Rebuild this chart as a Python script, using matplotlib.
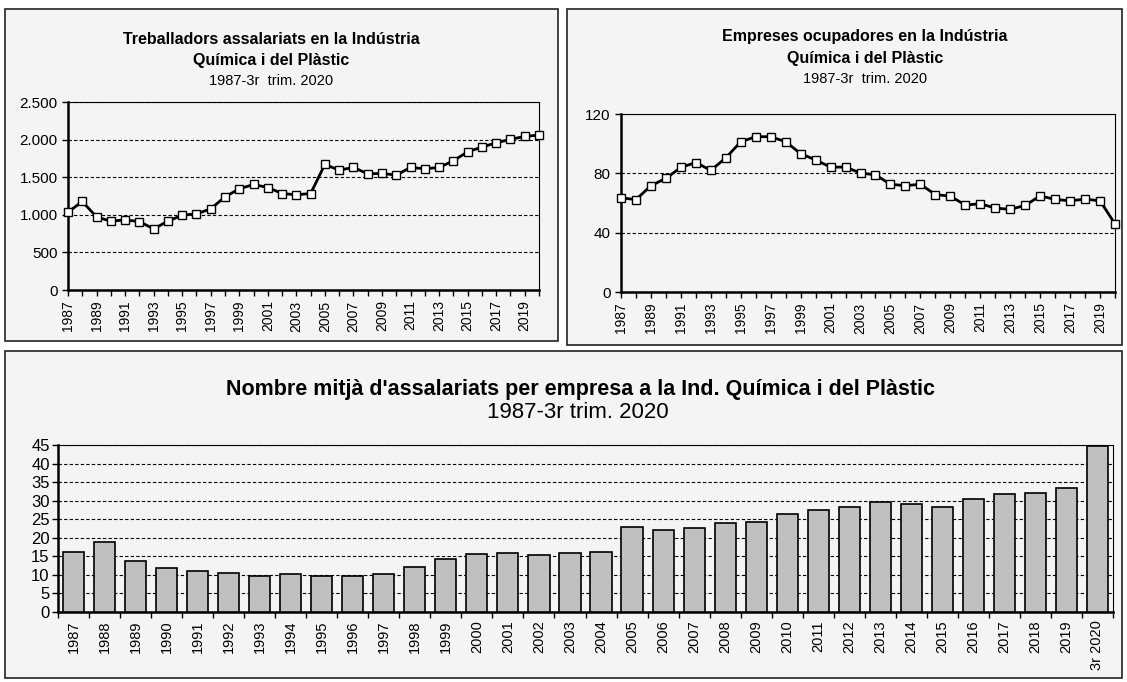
import matplotlib
matplotlib.use('Agg')
import matplotlib.pyplot as plt
from matplotlib.patches import Rectangle
from matplotlib.ticker import FuncFormatter, MultipleLocator

plt.rcParams['font.family'] = ['Liberation Sans', 'DejaVu Sans']

years = list(range(1987, 2021))
assalariats = [1035, 1177, 972, 915, 932, 910, 813, 915, 995, 1012, 1079, 1239,
               1345, 1403, 1363, 1283, 1266, 1283, 1670, 1594, 1630, 1545, 1550,
               1528, 1630, 1612, 1630, 1718, 1838, 1900, 1958, 2003, 2043, 2060]
empreses = [63.5, 62.3, 71.7, 76.6, 84.0, 87.3, 82.0, 90.4, 101.3, 104.7, 104.7,
            101.3, 93.3, 89.0, 84.2, 84.2, 80.2, 79.0, 72.6, 71.7, 72.6, 65.7,
            64.6, 58.6, 59.5, 56.6, 55.7, 58.4, 64.8, 62.4, 61.5, 62.6, 61.5, 45.9]
bar_labels = [str(y) for y in range(1987, 2020)] + ['3r 2020']
mitja = [16.3, 18.9, 13.8, 11.9, 11.1, 10.6, 9.8, 10.2, 9.8, 9.7, 10.2, 12.2,
         14.4, 15.6, 16.0, 15.3, 15.8, 16.3, 23.0, 22.2, 22.6, 23.9, 24.3,
         26.3, 27.5, 28.4, 29.7, 29.2, 28.4, 30.4, 31.7, 32.2, 33.3, 44.7]

W, H = 1127, 682
fig = plt.figure(figsize=(W / 100, H / 100), dpi=100)
BG = '#f4f4f4'


def box(x0, y0, x1, y1):
    fig.patches.append(Rectangle((x0 / W, 1 - y1 / H), (x1 - x0) / W, (y1 - y0) / H,
                                 transform=fig.transFigure, facecolor=BG,
                                 edgecolor='#222222', lw=1.2, zorder=-5))


def axes_px(x0, y0, x1, y1):
    ax = fig.add_axes([x0 / W, 1 - y1 / H, (x1 - x0) / W, (y1 - y0) / H])
    ax.set_facecolor(BG)
    for s in ['left', 'bottom']:
        ax.spines[s].set_linewidth(1.8)
    for s in ['top', 'right']:
        ax.spines[s].set_linewidth(0.8)
    ax.grid(axis='y', color='black', linestyle=(0, (3, 2)), lw=0.8)
    ax.set_axisbelow(True)
    ax.tick_params(axis='both', direction='out', length=4, width=1, colors='black')
    return ax


def ftext(x, y, s, **kw):
    fig.text(x / W, 1 - y / H, s, ha='center', va='center', **kw)


thousands = FuncFormatter(lambda v, p: f"{int(v):,}".replace(',', '.'))

# Panel 1
box(5, 9, 558, 341)
ax1 = axes_px(68, 102, 539, 290)
ax1.plot(years, assalariats, color='black', lw=2, marker='s', ms=6,
         mfc='white', mec='black', mew=1, clip_on=False, zorder=3)
ax1.set_xlim(1987, 2020)
ax1.set_ylim(0, 2500)
ax1.yaxis.set_major_locator(MultipleLocator(500))
ax1.yaxis.set_major_formatter(thousands)
ax1.set_xticks(years)
ax1.set_xticklabels([str(y) if (y - 1987) % 2 == 0 else '' for y in years],
                    rotation=90, fontsize=10)
ax1.tick_params(axis='y', labelsize=11)
ftext(271, 40, 'Treballadors assalariats en la Indústria', fontsize=11.5, fontweight='bold')
ftext(271, 60, 'Química i del Plàstic', fontsize=11.5, fontweight='bold')
ftext(271, 81, '1987-3r  trim. 2020', fontsize=10.5)

# Panel 2
box(567, 9, 1122, 345)
ax2 = axes_px(621, 114, 1115, 292)
ax2.plot(years, empreses, color='black', lw=2, marker='s', ms=6,
         mfc='white', mec='black', mew=1, clip_on=False, zorder=3)
ax2.set_xlim(1987, 2020)
ax2.set_ylim(0, 120)
ax2.yaxis.set_major_locator(MultipleLocator(40))
ax2.set_xticks(years)
ax2.set_xticklabels([str(y) if (y - 1987) % 2 == 0 else '' for y in years],
                    rotation=90, fontsize=10)
ax2.tick_params(axis='y', labelsize=11)
ftext(865, 37, 'Empreses ocupadores en la Indústria', fontsize=11.5, fontweight='bold')
ftext(865, 58, 'Química i del Plàstic', fontsize=11.5, fontweight='bold')
ftext(865, 79, '1987-3r  trim. 2020', fontsize=10.5)

# Panel 3
box(5, 351, 1122, 678)
ax3 = axes_px(58, 445, 1113, 612)
pos = list(range(len(mitja)))
ax3.bar(pos, mitja, width=0.68, color='#c0c0c0', edgecolor='black', lw=1.2, zorder=3)
ax3.set_xlim(-0.5, len(mitja) - 0.5)
ax3.set_ylim(0, 45)
ax3.yaxis.set_major_locator(MultipleLocator(5))
ax3.set_xticks(pos)
ax3.set_xticklabels(bar_labels, rotation=90, fontsize=10.5)
ax3.set_xticks([p - 0.5 for p in pos] + [len(mitja) - 0.5], minor=True)
ax3.tick_params(axis='x', which='major', length=0, pad=6)
ax3.tick_params(axis='x', which='minor', length=4, width=1, direction='out')
ax3.tick_params(axis='y', labelsize=12, pad=2)
ftext(580, 389, "Nombre mitjà d'assalariats per empresa a la Ind. Química i del Plàstic",
      fontsize=15.5, fontweight='bold')
ftext(578, 412, '1987-3r trim. 2020', fontsize=16)

fig.savefig('out.png', dpi=100, facecolor='white')
